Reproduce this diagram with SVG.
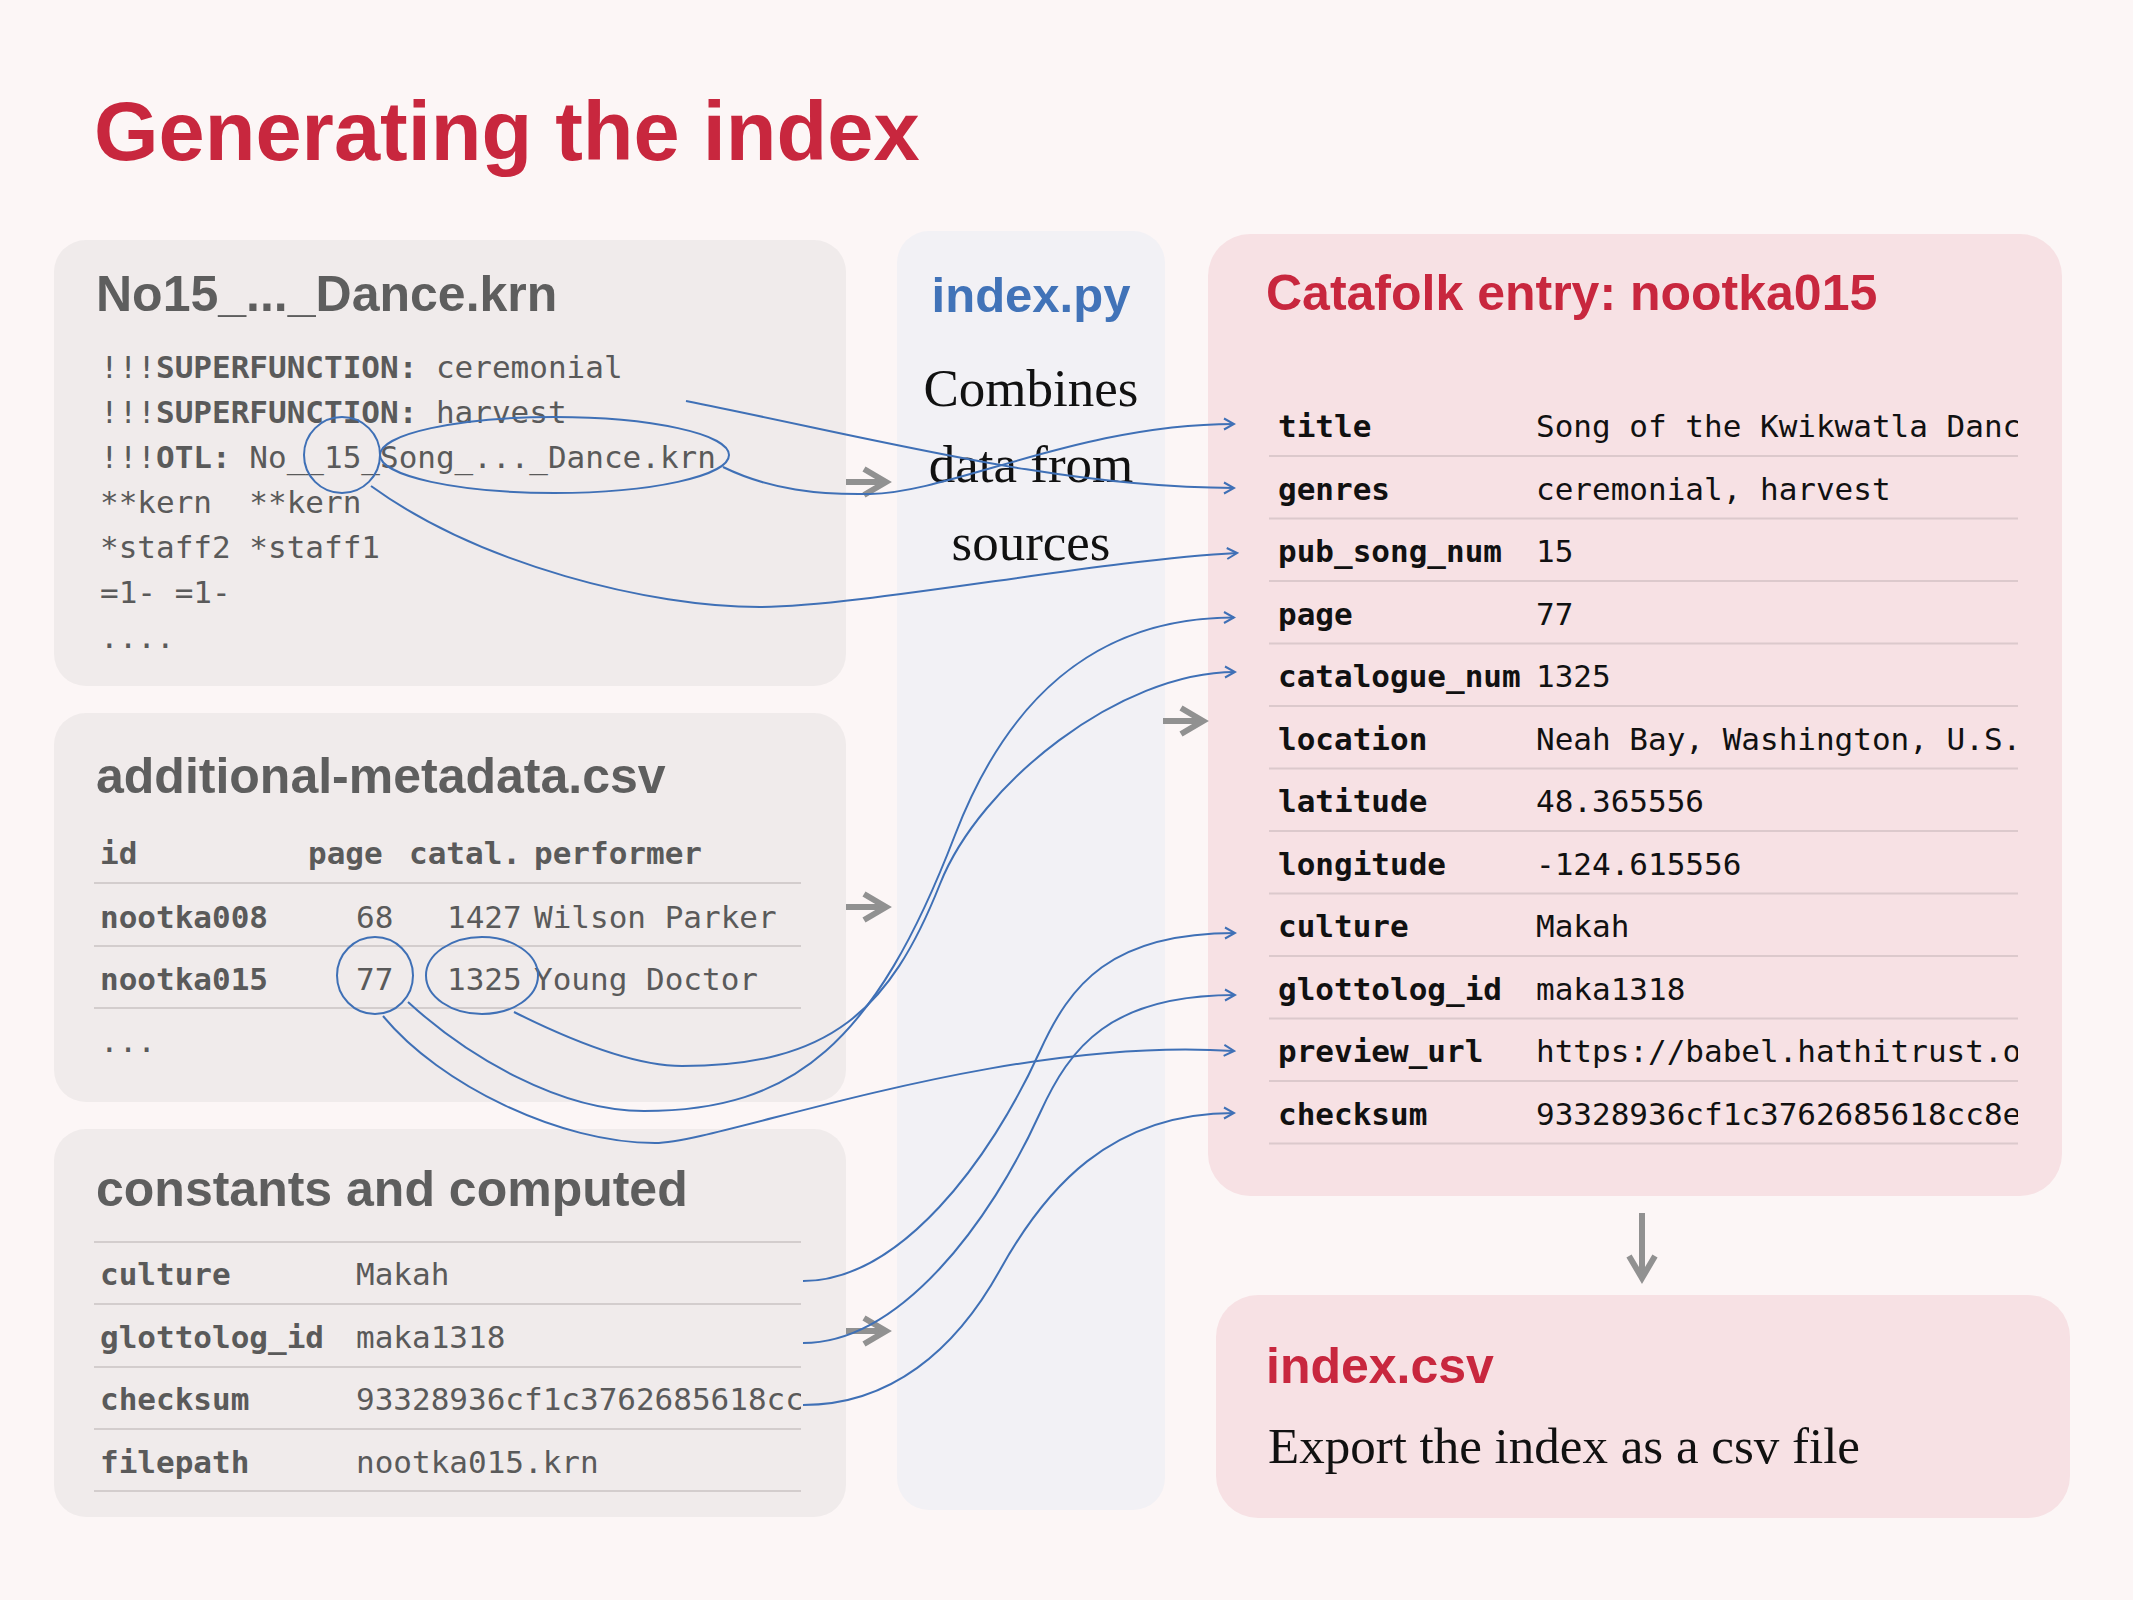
<svg xmlns="http://www.w3.org/2000/svg" width="2133" height="1600" viewBox="0 0 2133 1600">
  <defs>
    <style>
      .bg { fill: #FCF6F6; }
      .lbox { fill: #F0EBEB; }
      .mbox { fill: #F2F1F5; }
      .rbox { fill: #F7E1E4; }
      .h1 { font-family: "Liberation Sans", Arial, sans-serif; font-weight: bold; font-size: 83px; fill: #C8273E; }
      .h2 { font-family: "Liberation Sans", Arial, sans-serif; font-weight: bold; font-size: 50px; fill: #5E5E5E; }
      .h2r { font-family: "Liberation Sans", Arial, sans-serif; font-weight: bold; font-size: 50px; fill: #C8273E; }
      .h2b { font-family: "Liberation Sans", Arial, sans-serif; font-weight: bold; font-size: 49px; fill: #4173B8; }
      .serif { font-family: "Liberation Serif", "Times New Roman", serif; font-size: 53px; fill: #111111; }
      .serif2 { font-family: "Liberation Serif", "Times New Roman", serif; font-size: 51px; fill: #111111; }
      .mono { font-family: "DejaVu Sans Mono", "Liberation Mono", monospace; font-size: 31px; fill: #5A5A5A; }
      .monok { font-family: "DejaVu Sans Mono", "Liberation Mono", monospace; font-size: 31px; fill: #111111; }
      .b { font-weight: bold; }
      .rule { stroke: #D3CDCD; stroke-width: 2; }
      .ruler { stroke: #DCC9CC; stroke-width: 2; }
      .hl { fill: none; stroke: #3F70B6; stroke-width: 2; }
      .link { fill: none; stroke: #3F70B6; stroke-width: 2; marker-end: url(#ah); }
      .flow { fill: none; stroke: #919191; stroke-width: 6; marker-end: url(#gh); }
    </style>
    <marker id="ah" viewBox="0 0 14 14" refX="12" refY="7" markerWidth="14" markerHeight="14" orient="auto" markerUnits="userSpaceOnUse">
      <path d="M2,1.5 L12,7 L2,12.5" fill="none" stroke="#3F70B6" stroke-width="2"/>
    </marker>
    <marker id="gh" viewBox="0 0 32 32" refX="26" refY="16" markerWidth="32" markerHeight="32" orient="auto" markerUnits="userSpaceOnUse">
      <path d="M4,3 L26,16 L4,29" fill="none" stroke="#919191" stroke-width="6"/>
    </marker>
    <clipPath id="clipL"><rect x="54" y="1110" width="747" height="420"/></clipPath>
    <clipPath id="clipR"><rect x="1208" y="234" width="810" height="960"/></clipPath>
  </defs>

  <rect class="bg" x="0" y="0" width="2133" height="1600"/>

  <text class="h1" x="94" y="160">Generating the index</text>

  <g id="krn-file">
    <rect class="lbox" x="54" y="240" width="792" height="446" rx="32"/>
    <text class="h2" x="96" y="311">No15_..._Dance.krn</text>
    <text class="mono" x="100" y="378">!!!<tspan class="b">SUPERFUNCTION:</tspan> ceremonial</text>
    <text class="mono" x="100" y="423">!!!<tspan class="b">SUPERFUNCTION:</tspan> harvest</text>
    <text class="mono" x="100" y="468">!!!<tspan class="b">OTL:</tspan> No__15_Song_..._Dance.krn</text>
    <text class="mono" x="100" y="513" xml:space="preserve">**kern  **kern</text>
    <text class="mono" x="100" y="558">*staff2 *staff1</text>
    <text class="mono" x="100" y="603">=1- =1-</text>
    <text class="mono" x="100" y="648">....</text>
    <ellipse class="hl" cx="342" cy="455" rx="38" ry="38"/>
    <ellipse class="hl" cx="554.5" cy="455" rx="174.5" ry="38"/>
  </g>

  <g id="metadata-csv">
    <rect class="lbox" x="54" y="713" width="792" height="389" rx="32"/>
    <text class="h2" x="96" y="793">additional-metadata.csv</text>
    <text class="mono b" x="100" y="864">id</text>
    <text class="mono b" x="308" y="864">page</text>
    <text class="mono b" x="409" y="864">catal.</text>
    <text class="mono b" x="534" y="864">performer</text>
    <line class="rule" x1="94" y1="883" x2="801" y2="883"/>
    <text class="mono b" x="100" y="928">nootka008</text>
    <text class="mono" x="356" y="928">68</text>
    <text class="mono" x="447" y="928">1427</text>
    <text class="mono" x="534" y="928">Wilson Parker</text>
    <line class="rule" x1="94" y1="946" x2="801" y2="946"/>
    <text class="mono b" x="100" y="990">nootka015</text>
    <text class="mono" x="356" y="990">77</text>
    <text class="mono" x="447" y="990">1325</text>
    <text class="mono" x="534" y="990">Young Doctor</text>
    <line class="rule" x1="94" y1="1008" x2="801" y2="1008"/>
    <text class="mono" x="100" y="1052">...</text>
    <ellipse class="hl" cx="375" cy="975.5" rx="38" ry="38.5"/>
    <ellipse class="hl" cx="482" cy="975.5" rx="56" ry="38.5"/>
  </g>

  <g id="constants">
    <rect class="lbox" x="54" y="1129" width="792" height="388" rx="32"/>
    <text class="h2" x="96" y="1206">constants and computed</text>
    <line class="rule" x1="94" y1="1242" x2="801" y2="1242"/>
    <text class="mono b" x="100" y="1285">culture</text>
    <text class="mono" x="356" y="1285">Makah</text>
    <line class="rule" x1="94" y1="1304" x2="801" y2="1304"/>
    <text class="mono b" x="100" y="1348">glottolog_id</text>
    <text class="mono" x="356" y="1348">maka1318</text>
    <line class="rule" x1="94" y1="1367" x2="801" y2="1367"/>
    <text class="mono b" x="100" y="1410">checksum</text>
    <text class="mono" x="356" y="1410" clip-path="url(#clipL)">93328936cf1c3762685618cc</text>
    <line class="rule" x1="94" y1="1429" x2="801" y2="1429"/>
    <text class="mono b" x="100" y="1473">filepath</text>
    <text class="mono" x="356" y="1473">nootka015.krn</text>
    <line class="rule" x1="94" y1="1491" x2="801" y2="1491"/>
  </g>

  <g id="index-py">
    <rect class="mbox" x="897" y="231" width="268" height="1279" rx="32"/>
    <text class="h2b" x="1031" y="312" text-anchor="middle">index.py</text>
    <text class="serif" x="1031" y="406" text-anchor="middle">Combines</text>
    <text class="serif" x="1031" y="482" text-anchor="middle">data from</text>
    <text class="serif" x="1031" y="560" text-anchor="middle">sources</text>
  </g>

  <g id="catafolk-entry">
    <rect class="rbox" x="1208" y="234" width="854" height="962" rx="42"/>
    <text class="h2r" x="1266" y="310">Catafolk entry: nootka015</text>
    <g clip-path="url(#clipR)">
      <text class="monok b" x="1278" y="437">title</text>
      <text class="monok" x="1536" y="437">Song of the Kwikwatla Danc</text>
      <text class="monok b" x="1278" y="499.5">genres</text>
      <text class="monok" x="1536" y="499.5">ceremonial, harvest</text>
      <text class="monok b" x="1278" y="562">pub_song_num</text>
      <text class="monok" x="1536" y="562">15</text>
      <text class="monok b" x="1278" y="624.5">page</text>
      <text class="monok" x="1536" y="624.5">77</text>
      <text class="monok b" x="1278" y="687">catalogue_num</text>
      <text class="monok" x="1536" y="687">1325</text>
      <text class="monok b" x="1278" y="749.5">location</text>
      <text class="monok" x="1536" y="749.5">Neah Bay, Washington, U.S.</text>
      <text class="monok b" x="1278" y="812">latitude</text>
      <text class="monok" x="1536" y="812">48.365556</text>
      <text class="monok b" x="1278" y="874.5">longitude</text>
      <text class="monok" x="1536" y="874.5">-124.615556</text>
      <text class="monok b" x="1278" y="937">culture</text>
      <text class="monok" x="1536" y="937">Makah</text>
      <text class="monok b" x="1278" y="999.5">glottolog_id</text>
      <text class="monok" x="1536" y="999.5">maka1318</text>
      <text class="monok b" x="1278" y="1062">preview_url</text>
      <text class="monok" x="1536" y="1062">https://babel.hathitrust.o</text>
      <text class="monok b" x="1278" y="1124.5">checksum</text>
      <text class="monok" x="1536" y="1124.5">93328936cf1c3762685618cc8e</text>
    </g>
    <line class="ruler" x1="1269" y1="456" x2="2018" y2="456"/>
    <line class="ruler" x1="1269" y1="518.5" x2="2018" y2="518.5"/>
    <line class="ruler" x1="1269" y1="581" x2="2018" y2="581"/>
    <line class="ruler" x1="1269" y1="643.5" x2="2018" y2="643.5"/>
    <line class="ruler" x1="1269" y1="706" x2="2018" y2="706"/>
    <line class="ruler" x1="1269" y1="768.5" x2="2018" y2="768.5"/>
    <line class="ruler" x1="1269" y1="831" x2="2018" y2="831"/>
    <line class="ruler" x1="1269" y1="893.5" x2="2018" y2="893.5"/>
    <line class="ruler" x1="1269" y1="956" x2="2018" y2="956"/>
    <line class="ruler" x1="1269" y1="1018.5" x2="2018" y2="1018.5"/>
    <line class="ruler" x1="1269" y1="1081" x2="2018" y2="1081"/>
    <line class="ruler" x1="1269" y1="1143.5" x2="2018" y2="1143.5"/>
  </g>

  <g id="index-csv">
    <rect class="rbox" x="1216" y="1295" width="854" height="223" rx="42"/>
    <text class="h2r" x="1266" y="1383">index.csv</text>
    <text class="serif2" x="1268" y="1463">Export the index as a csv file</text>
  </g>

  <g id="connectors">
    <path class="flow" d="M846,482 H886"/>
    <path class="flow" d="M846,907 H886"/>
    <path class="flow" d="M846,1331 H886"/>
    <path class="flow" d="M1163,721 H1203"/>
    <path class="flow" d="M1642,1213 V1278"/>

    <path class="link" d="M686,401 C886,441 1060,488 1234,488"/>
    <path class="link" d="M723,467 C770,490 820,495 870,494 C950,493 1080,424 1234,424"/>
    <path class="link" d="M371,486 C480,565 650,607 760,607 C860,607 1100,560 1237,553"/>
    <path class="link" d="M408,1002 C468,1057 560,1111 644,1111 C794,1111 875,1043 955,835 C1005,705 1090,617.5 1234,617.5"/>
    <path class="link" d="M514,1012 C564,1037 630,1066 682,1066 C830,1066 890,1010 940,884 C980,783 1120,672 1235,672"/>
    <path class="link" d="M383,1016 C440,1085 560,1143 655,1143 C720,1143 1000,1035 1234,1051"/>
    <path class="link" d="M803,1281 C900,1281 990,1161 1040,1051 C1070,985 1110,933 1235,933"/>
    <path class="link" d="M803,1343 C900,1343 990,1223 1040,1113 C1070,1047 1110,995 1235,995"/>
    <path class="link" d="M803,1405 C890,1405 955,1351 1000,1270 C1045,1189 1110,1113 1234,1113"/>
  </g>
</svg>
